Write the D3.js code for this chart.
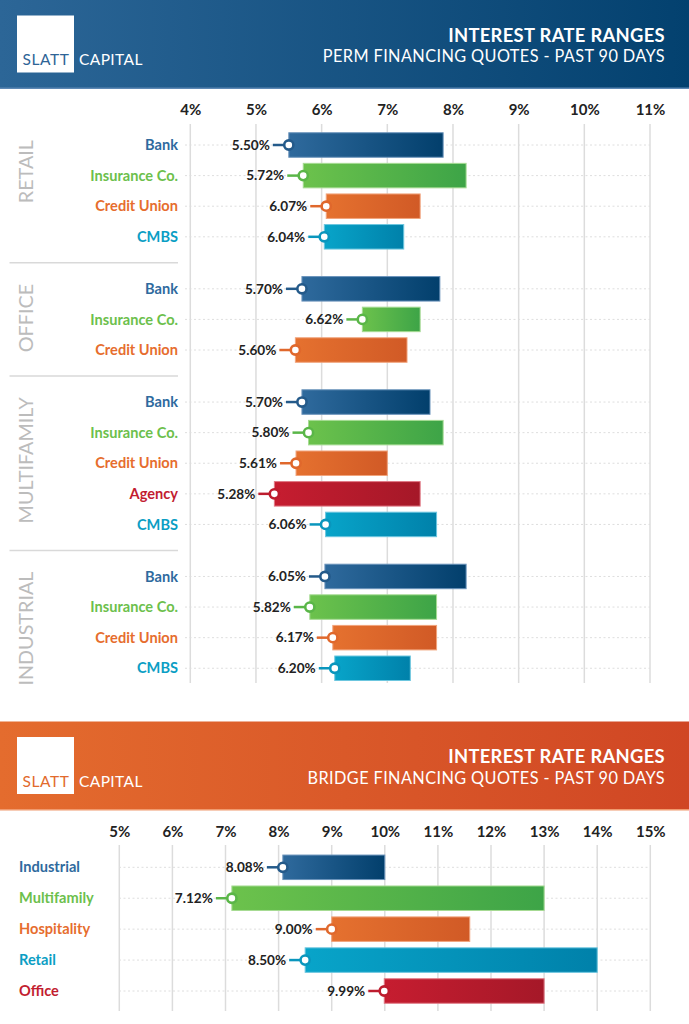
<!DOCTYPE html>
<html>
<head>
<meta charset="utf-8">
<script src="https://cdn.jsdelivr.net/npm/d3@7"></script>
<style>
  html, body { margin: 0; padding: 0; background: #fff; }
  svg { display: block; font-family: Lato, "Open Sans", sans-serif; }
</style>
</head>
<body>
<svg id="chart" width="689" height="1024"></svg>
<script>
// ---------- DATA ----------
const permGroups = ["RETAIL", "OFFICE", "MULTIFAMILY", "INDUSTRIAL"];
const permLenders = [
  ["Bank", "Insurance Co.", "Credit Union", "CMBS"],
  ["Bank", "Insurance Co.", "Credit Union"],
  ["Bank", "Insurance Co.", "Credit Union", "Agency", "CMBS"],
  ["Bank", "Insurance Co.", "Credit Union", "CMBS"]
];
const permLow = [
  [5.50, 5.72, 6.07, 6.04],
  [5.70, 6.62, 5.60],
  [5.70, 5.80, 5.61, 5.28, 6.06],
  [6.05, 5.82, 6.17, 6.20]
];
const permHigh = [
  [7.85, 8.20, 7.50, 7.25],
  [7.80, 7.50, 7.30],
  [7.65, 7.85, 7.00, 7.50, 7.75],
  [8.20, 7.75, 7.75, 7.35]
];
const permTicks = [4, 5, 6, 7, 8, 9, 10, 11];

const bridgeTypes = ["Industrial", "Multifamily", "Hospitality", "Retail", "Office"];
const bridgeLow = [8.08, 7.12, 9.00, 8.50, 9.99];
const bridgeHigh = [10.00, 13.00, 11.60, 14.00, 13.00];
const bridgeTicks = [5, 6, 7, 8, 9, 10, 11, 12, 13, 14, 15];

const permTitle = "INTEREST RATE RANGES";
const permSubtitle = "PERM FINANCING QUOTES - PAST 90 DAYS";
const bridgeTitle = "INTEREST RATE RANGES";
const bridgeSubtitle = "BRIDGE FINANCING QUOTES - PAST 90 DAYS";

// ---------- STYLE ----------
const palette = {
  blue:   { text: "#2f6a9e", from: "#2f6a9d", to: "#023f6c", mark: "#245a8a", edge: "#6a93bb" },
  green:  { text: "#6cbf4c", from: "#6cc24c", to: "#3da447", mark: "#5ab648", edge: "#a6db93" },
  orange: { text: "#e66d2e", from: "#e5712f", to: "#d15a26", mark: "#e0682c", edge: "#f1a47c" },
  cyan:   { text: "#0b9ec4", from: "#08a4c9", to: "#0081aa", mark: "#0a96bd", edge: "#6cc6df" },
  red:    { text: "#c21d30", from: "#c61d30", to: "#a51828", mark: "#bd1c2e", edge: "#e07884" }
};
const lenderColor = { "Bank": "blue", "Insurance Co.": "green", "Credit Union": "orange", "CMBS": "cyan", "Agency": "red" };
const bridgeColor = { "Industrial": "blue", "Multifamily": "green", "Hospitality": "orange", "Retail": "cyan", "Office": "red" };

const svg = d3.select("#chart");
const defs = svg.append("defs");

Object.entries(palette).forEach(([k, c]) => {
  const g = defs.append("linearGradient").attr("id", "bar-" + k)
    .attr("x1", "0%").attr("x2", "100%").attr("y1", "0%").attr("y2", "0%");
  g.append("stop").attr("offset", "0%").attr("stop-color", c.from);
  g.append("stop").attr("offset", "100%").attr("stop-color", c.to);
});
function headerGradient(id, c1, c2) {
  const g = defs.append("linearGradient").attr("id", id)
    .attr("x1", "0%").attr("x2", "100%").attr("y1", "0%").attr("y2", "0%");
  g.append("stop").attr("offset", "0%").attr("stop-color", c1);
  g.append("stop").attr("offset", "100%").attr("stop-color", c2);
}
headerGradient("hdr-blue", "#2c6697", "#03416f");
headerGradient("hdr-orange", "#e46c2e", "#d04624");

// ---------- HEADERS ----------
function header(y, fillId, logoColor, edgeColor, title, subtitle) {
  const g = svg.append("g").attr("transform", `translate(0,${y})`);
  g.append("rect").attr("x", 0).attr("y", 0).attr("width", 689).attr("height", 88.5).attr("fill", `url(#${fillId})`);
  g.append("rect").attr("x", 0).attr("y", 87.5).attr("width", 689).attr("height", 1.5).attr("fill", edgeColor);
  g.append("rect").attr("x", 17).attr("y", 15.5).attr("width", 57).attr("height", 57).attr("fill", "#fff");
  g.append("text").attr("x", 22.5).attr("y", 65).attr("fill", logoColor)
    .attr("font-size", 15.5).attr("font-weight", 400).attr("letter-spacing", 0.6).text("SLATT");
  g.append("text").attr("x", 79).attr("y", 65).attr("fill", "#fff")
    .attr("font-size", 15.5).attr("font-weight", 400).attr("letter-spacing", 0.4).text("CAPITAL");
  g.append("text").attr("x", 665).attr("y", 41.5).attr("text-anchor", "end").attr("fill", "#fff")
    .attr("font-size", 18.4).attr("font-weight", 700).attr("letter-spacing", 0.3).text(title);
  g.append("text").attr("x", 665).attr("y", 62).attr("text-anchor", "end").attr("fill", "#fff")
    .attr("font-size", 16.3).attr("font-weight", 400).attr("letter-spacing", 0.4).text(subtitle);
}
header(0, "hdr-blue", "#2e6496", "#5d88b4", permTitle, permSubtitle);
header(721.5, "hdr-orange", "#e26a2c", "#f09a6e", bridgeTitle, bridgeSubtitle);

// ---------- COMMON RANGE ROW ----------
function drawRow(g, x, cy, low, high, colorKey, barH) {
  const c = palette[colorKey];
  const x0 = x(low), x1 = x(high);
  g.append("rect").attr("x", x0).attr("y", cy - barH / 2).attr("width", x1 - x0).attr("height", barH)
    .attr("fill", `url(#bar-${colorKey})`).attr("stroke", c.edge).attr("stroke-width", 1);
  g.append("line").attr("x1", x0 - 16).attr("x2", x0 - 4).attr("y1", cy).attr("y2", cy)
    .attr("stroke", c.mark).attr("stroke-width", 2.5);
  g.append("circle").attr("cx", x0).attr("cy", cy).attr("r", 4.6)
    .attr("fill", "#fff").attr("stroke", c.mark).attr("stroke-width", 2.6);
  g.append("text").attr("x", x0 - 19).attr("y", cy).attr("dy", "0.35em").attr("text-anchor", "end")
    .attr("fill", "#222").attr("font-size", 13.6).attr("font-weight", 700).text(low.toFixed(2) + "%");
}

// ---------- PERM CHART ----------
const xPerm = d3.scaleLinear().domain([4, 11]).range([190.3, 650]);
const slotY = d3.scaleLinear().domain([0, 1]).range([145, 175.6]);
const groupGap = 0.7;

const permRows = [];
let idx = 0;
permGroups.forEach((grp, gi) => {
  permLenders[gi].forEach((l, li) => {
    permRows.push({ group: grp, gi, li, lender: l, low: permLow[gi][li], high: permHigh[gi][li], slot: idx + gi * groupGap });
    idx++;
  });
});

const pg = svg.append("g");
const permTop = 124, permBottom = 683;

pg.append("g").selectAll("line").data(permTicks).join("line")
  .attr("x1", d => xPerm(d)).attr("x2", d => xPerm(d)).attr("y1", permTop).attr("y2", permBottom)
  .attr("stroke", "#dcdcdc").attr("stroke-width", 1.5);

const permAxis = d3.axisTop(xPerm).tickValues(permTicks).tickSize(0).tickPadding(0).tickFormat(d => d + "%");
const pa = pg.append("g").attr("transform", "translate(0,114.5)").call(permAxis);
pa.select(".domain").remove();
pa.selectAll("text").attr("fill", "#222").attr("font-size", 15).attr("font-weight", 700)
  .attr("font-family", "Lato, sans-serif");

pg.append("g").selectAll("line").data(permRows).join("line")
  .attr("x1", 185).attr("x2", 650).attr("y1", d => slotY(d.slot)).attr("y2", d => slotY(d.slot))
  .attr("stroke", "#dedede").attr("stroke-width", 1).attr("stroke-dasharray", "2,2.5");

for (let gi = 1; gi < permGroups.length; gi++) {
  const prev = permRows.filter(r => r.gi === gi - 1).slice(-1)[0];
  const next = permRows.find(r => r.gi === gi);
  const sy = (slotY(prev.slot) + slotY(next.slot)) / 2;
  pg.append("line").attr("x1", 9.5).attr("x2", 178).attr("y1", sy).attr("y2", sy)
    .attr("stroke", "#d9d9d9").attr("stroke-width", 1.5);
}

permGroups.forEach((grp, gi) => {
  const first = permRows.find(r => r.gi === gi);
  const ty = slotY(first.slot) - 5;
  pg.append("text").attr("transform", `translate(32.5,${ty}) rotate(-90)`)
    .attr("text-anchor", "end").attr("fill", "#bcbcbc").attr("font-size", 19.8).attr("font-weight", 400)
    .text(grp);
});

pg.append("g").selectAll("text").data(permRows).join("text")
  .attr("x", 178).attr("y", d => slotY(d.slot)).attr("dy", "0.35em").attr("text-anchor", "end")
  .attr("fill", d => palette[lenderColor[d.lender]].text).attr("font-size", 14.6).attr("font-weight", 700)
  .text(d => d.lender);

permRows.forEach(r => drawRow(pg, xPerm, slotY(r.slot), r.low, r.high, lenderColor[r.lender], 24.5));

// ---------- BRIDGE CHART ----------
const xBridge = d3.scaleLinear().domain([5, 15]).range([119.3, 650.3]);
const yBridge = d3.scalePoint().domain(bridgeTypes).range([867.3, 991]);
const bg = svg.append("g");

bg.append("g").selectAll("line").data(bridgeTicks).join("line")
  .attr("x1", d => xBridge(d)).attr("x2", d => xBridge(d)).attr("y1", 845).attr("y2", 1011)
  .attr("stroke", "#dcdcdc").attr("stroke-width", 1.5);

const bridgeAxis = d3.axisTop(xBridge).tickValues(bridgeTicks).tickSize(0).tickPadding(0).tickFormat(d => d + "%");
const ba = bg.append("g").attr("transform", "translate(0,836.5)").call(bridgeAxis);
ba.select(".domain").remove();
ba.selectAll("text").attr("fill", "#222").attr("font-size", 15).attr("font-weight", 700)
  .attr("font-family", "Lato, sans-serif");

bg.append("g").selectAll("line").data(bridgeTypes).join("line")
  .attr("x1", 119).attr("x2", 650).attr("y1", d => yBridge(d)).attr("y2", d => yBridge(d))
  .attr("stroke", "#dedede").attr("stroke-width", 1).attr("stroke-dasharray", "2,2.5");

bg.append("g").selectAll("text").data(bridgeTypes).join("text")
  .attr("x", 19).attr("y", d => yBridge(d)).attr("dy", "0.35em")
  .attr("fill", d => palette[bridgeColor[d]].text).attr("font-size", 14.6).attr("font-weight", 700)
  .text(d => d);

bridgeTypes.forEach((t, i) => drawRow(bg, xBridge, yBridge(t), bridgeLow[i], bridgeHigh[i], bridgeColor[t], 24.5));
</script>
</body>
</html>
